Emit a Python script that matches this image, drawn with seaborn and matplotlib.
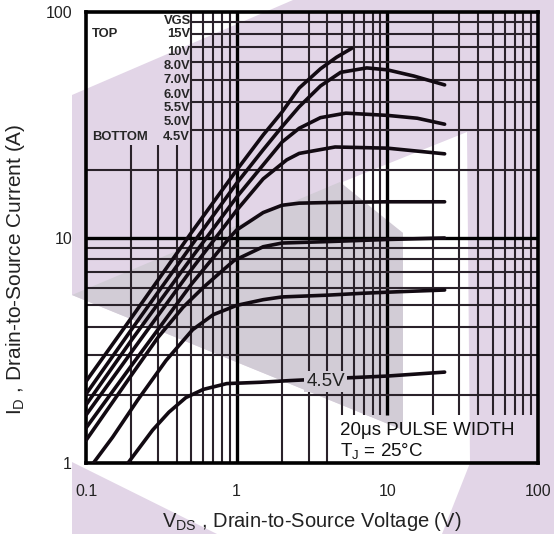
import pandas as pd
import seaborn as sns
import matplotlib.pyplot as plt
from matplotlib.patches import Polygon

# ==========================
# Data
# ==========================

vgs_labels = ["15V", "10V", "8.0V", "7.0V", "6.0V", "5.5V", "5.0V", "4.5V"]

vds_15 = [0.1, 0.2, 0.5, 1.0, 1.5, 2.0, 2.6, 3.6, 4.6, 5.8]
id_15 = [2.3, 4.4, 10.5, 19.9, 28.5, 36, 46, 56, 63, 69]

vds_10 = [0.1, 0.2, 0.5, 1.0, 1.5, 2.0, 2.6, 3.6, 4.9, 7.3, 10, 15, 24]
id_10 = [2.02, 3.9, 9.2, 17.4, 24.5, 31, 38, 47, 54, 56.5, 55.4, 52, 47.5]

vds_8 = [0.1, 0.2, 0.5, 1.0, 1.5, 2.0, 2.6, 3.6, 5.3, 10, 15.8, 24]
id_8 = [1.81, 3.5, 8.1, 15.1, 21, 26.5, 30.5, 34, 35.6, 34.8, 33.8, 31.8]

vds_7 = [0.1, 0.2, 0.5, 1.0, 1.5, 2.15, 2.6, 4.5, 10, 24]
id_7 = [1.63, 3.1, 7.2, 13.2, 18.2, 22.1, 23.6, 25.2, 24.9, 23.5]

vds_6 = [0.1, 0.2, 0.5, 0.9, 1.0, 1.5, 2.0, 2.6, 4.2, 10, 24]
id_6 = [1.43, 2.7, 6.2, 10.0, 10.8, 12.9, 13.9, 14.2, 14.3, 14.4, 14.4]

vds_55 = [0.1, 0.2, 0.3, 0.44, 0.6, 0.76, 0.96, 1.5, 2.0, 4.2, 10, 24]
id_55 = [1.26, 2.45, 3.6, 4.9, 6.0, 6.9, 7.9, 9.1, 9.45, 9.6, 9.8, 9.95]

vds_5 = [0.112, 0.15, 0.22, 0.34, 0.51, 0.7, 1.0, 1.5, 2.0, 4.0, 6.9, 12, 24]
id_5 = [1.0, 1.3, 1.9, 2.85, 3.9, 4.55, 5.0, 5.3, 5.45, 5.55, 5.66, 5.75, 5.85]

vds_45 = [0.19, 0.277, 0.355, 0.46, 0.6, 0.86, 1.43, 2.26, 5, 10, 24]
id_45 = [1.0, 1.40, 1.68, 1.95, 2.12, 2.25, 2.28, 2.32, 2.38, 2.43, 2.53]

x_ticks = [0.1, 1, 10, 100]
x_ticklabels = ["0.1", "1", "10", "100"]
y_ticks = [1, 10, 100]
y_ticklabels = ["1", "10", "100"]

curves = [
    (vds_15, id_15), (vds_10, id_10), (vds_8, id_8), (vds_7, id_7),
    (vds_6, id_6), (vds_55, id_55), (vds_5, id_5), (vds_45, id_45),
]

rows = []
for label, (xs, ys) in zip(vgs_labels, curves):
    for x, y in zip(xs, ys):
        rows.append({"vgs": label, "vds": x, "id": y})
df = pd.DataFrame(rows)

# ==========================
# Figure
# ==========================

sns.set_style("white")
plt.rcParams["font.family"] = ["Liberation Sans", "DejaVu Sans"]

W, H = 554, 534
fig = plt.figure(figsize=(W / 100, H / 100), dpi=100)
ax = fig.add_axes([86 / W, 1 - 463 / H, 452 / W, 451 / H])
ax.set_facecolor("none")


def px(points):
    return [(x / W, 1 - y / H) for x, y in points]


# background watermark
light = "#e2d5e7"
gray = "#d2ccd6"
fig.add_artist(Polygon(px([(72, 95), (293, 0), (554, 0), (554, 534), (72, 534)]),
                       transform=fig.transFigure, facecolor=light, edgecolor="none", zorder=-5))
fig.add_artist(Polygon(px([(72, 295), (403, 430), (403, 233), (335, 185), (467, 132),
                           (470, 463), (442, 534), (217, 534), (72, 462)]),
                       transform=fig.transFigure, facecolor="white", edgecolor="none", zorder=-4))
fig.add_artist(Polygon(px([(72, 295), (340, 182), (403, 233), (403, 430)]),
                       transform=fig.transFigure, facecolor=gray, edgecolor="none", zorder=-3))

ax.set_xscale("log")
ax.set_yscale("log")
ax.set_xlim(0.1, 100)
ax.set_ylim(1, 100)

# grid, with gaps for the legend block and the note box
grid_col = "#2a222a"
legend_floor = 25.7
note_top = 1.63
for dec in [0.1, 1, 10]:
    for m in range(2, 10):
        xv = m * dec
        y0 = note_top if xv >= 5 else 1
        y1 = legend_floor if xv < 0.5 else 100
        ax.vlines(xv, y0, y1, color=grid_col, lw=1.5, zorder=1)
ax.vlines(1, 1, 100, color="black", lw=2.4, zorder=1)
ax.vlines(10, note_top, 100, color="black", lw=2.4, zorder=1)
for dec in [1, 10]:
    for m in range(2, 10):
        yv = m * dec
        x0 = 0.5 if yv > legend_floor else 0.1
        ax.hlines(yv, x0, 100, color=grid_col, lw=1.5, zorder=1)
ax.hlines(10, 0.1, 100, color="black", lw=2.4, zorder=1)

sns.lineplot(
    data=df, x="vds", y="id", units="vgs", estimator=None, sort=False,
    color="#120a12", lw=2.6, ax=ax, zorder=3
)

for s in ax.spines.values():
    s.set_visible(True)
    s.set_linewidth(2.6)
    s.set_color("black")

ax.set_xticks(x_ticks)
ax.set_xticklabels(x_ticklabels)
ax.set_yticks(y_ticks)
ax.set_yticklabels(y_ticklabels)
ax.xaxis.set_minor_locator(plt.NullLocator())
ax.yaxis.set_minor_locator(plt.NullLocator())
ax.tick_params(length=0, labelsize=11.5, colors="#222222")
ax.tick_params(axis="x", pad=15)
ax.tick_params(axis="y", pad=10)

ax.set_xlabel(r"$\mathregular{V_{DS}}$ , Drain-to-Source Voltage (V)", fontsize=14.5, color="#222222")
ax.set_ylabel(r"$\mathregular{I_D}$ , Drain-to-Source Current (A)", fontsize=15, color="#222222")
ax.xaxis.set_label_coords(0.5, -0.105)
ax.yaxis.set_label_coords(-0.13, 0.43)

# legend block (top left)
leg_font = dict(family=["Liberation Sans Narrow", "Liberation Sans"], weight="bold",
                fontsize=9.4, transform=ax.transAxes, va="center", zorder=4)
ax.text(0.232, (463 - 21) / 451, "VGS", ha="right", **leg_font)
row_py = [34, 52, 66, 80, 95, 108, 122, 137]
for lab, py in zip(vgs_labels, row_py):
    ax.text(0.230, (463 - py) / 451, lab, ha="right", **leg_font)
ax.text(0.013, (463 - 34) / 451, "TOP", ha="left", **leg_font)
ax.text(0.013, (463 - 137) / 451, "BOTTOM", ha="left", **leg_font)

# in-plot annotations
ax.text(3.9, 2.29, "4.5V", ha="center", va="center", fontsize=13.5, color="#222222",
        zorder=5, bbox=dict(facecolor=gray, edgecolor="none", pad=1.5))
ax.text(0.562, 0.073, "20\u03bcs PULSE WIDTH", transform=ax.transAxes,
        fontsize=13.5, va="center", color="#111111", zorder=5)
ax.text(0.562, 0.024, r"T$_\mathregular{J}$ = 25°C", transform=ax.transAxes,
        fontsize=13.5, va="center", color="#111111", zorder=5)

plt.savefig("out.png", dpi=100)
plt.close()
